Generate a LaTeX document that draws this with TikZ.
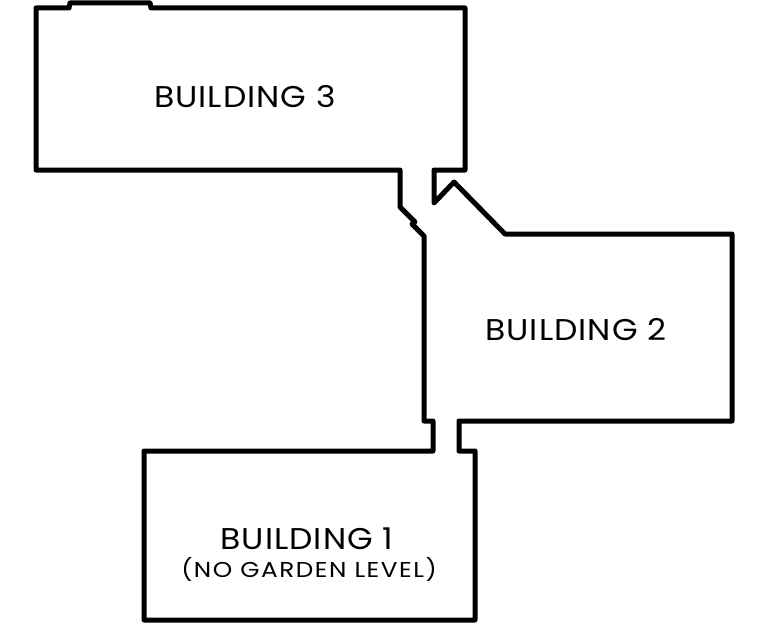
\documentclass[tikz,border=0pt]{standalone}
\usepackage{fontspec}
\setmainfont{Poppins}
\newfontfamily\bigfont[FakeStretch=1.1,LetterSpace=3.5]{Poppins}
\newfontfamily\smallfont[FakeStretch=1.15,LetterSpace=7]{Poppins}
\tikzset{
    wall/.style={line width=5pt, line join=round, line cap=round},
    bigname/.style={inner sep=0pt, font=\bigfont\fontsize{30}{34}\selectfont},
    smallname/.style={inner sep=0pt, font=\smallfont\fontsize{21.5}{26}\selectfont}
}
\begin{document}
\begin{tikzpicture}[x=1pt,y=-1pt]
    \useasboundingbox (0,0) rectangle (762,623);
    \draw[wall] (36,8) -- (69,8) -- (70,3) -- (150,3) -- (151,8) -- (465,8) -- (465,170)
     -- (434,170) -- (434,203) -- (454,182) -- (505,234) -- (732,234) -- (732,421)
     -- (459,421) -- (459,451) -- (475,451) -- (475,620) -- (144,620) -- (144,451)
     -- (433,451) -- (433,421) -- (424,421) -- (424,236) -- (412,224) -- (415,222)
     -- (400,207) -- (400,170) -- (36,170) -- cycle;
    \path (245,97) node[bigname] (B3) {BUILDING 3}
     (576,330) node[bigname] (B2) {BUILDING 2}
     (307,539) node[bigname] (B1) {BUILDING 1}
     (309,569) node[smallname] (B1note) {(NO GARDEN LEVEL)};
\end{tikzpicture}
\end{document}
